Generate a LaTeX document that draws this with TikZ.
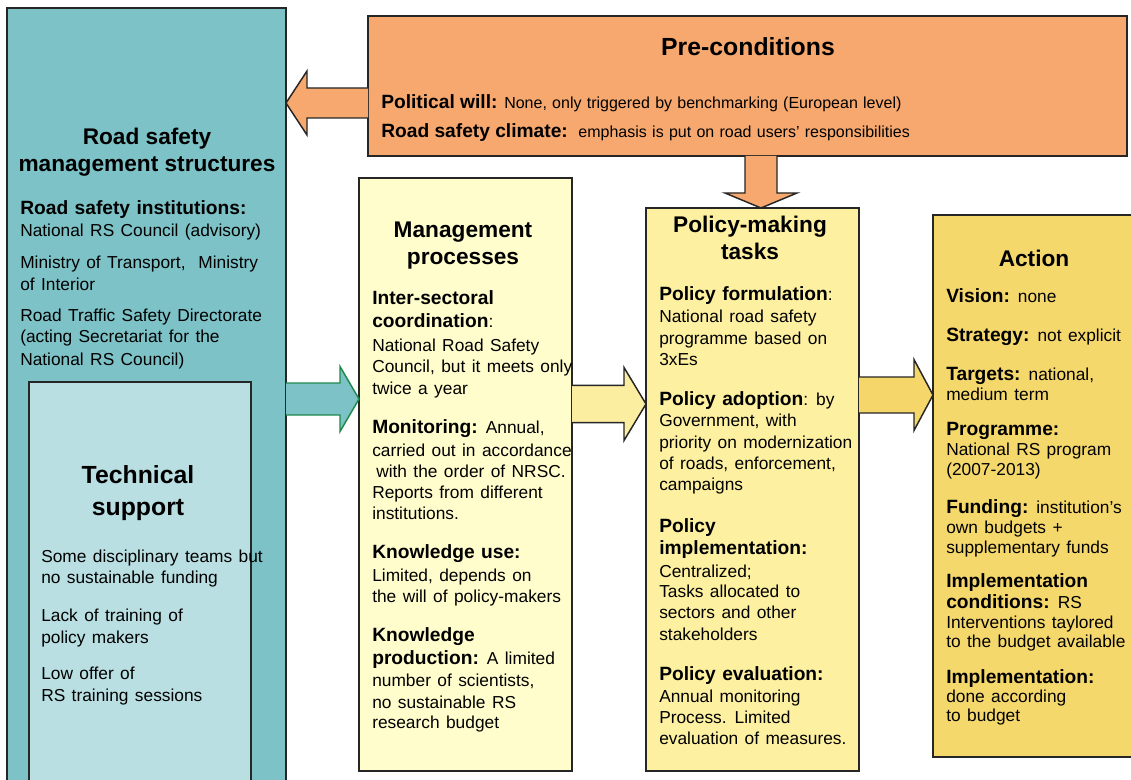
\documentclass[tikz,border=0pt]{standalone}
\usepackage{fontspec}
\setmainfont{Liberation Sans}
\usetikzlibrary{calc}
\definecolor{cTeal}{HTML}{7CC2C7}
\definecolor{cTealL}{HTML}{B9DFE2}
\definecolor{cOrange}{HTML}{F7A86E}
\definecolor{cMgmt}{HTML}{FFFDCC}
\definecolor{cPol}{HTML}{FDF0A0}
\definecolor{cAct}{HTML}{F5D86C}
\definecolor{cArrowY}{HTML}{FBEEA0}
\definecolor{cArrowYY}{HTML}{F4D66A}
\definecolor{cGreen}{HTML}{1F8A4C}
\definecolor{cLine}{HTML}{262626}
\newcommand\fbody{\fontsize{13}{15}\selectfont\spaceskip=0.37em plus 0.1em}
\newcommand\fpre{\fontsize{12}{14}\selectfont\spaceskip=0.33em plus 0.1em}
\newcommand\fsub{\fontsize{14.4}{17}\selectfont\bfseries}
\newcommand\ftitle{\fontsize{17}{20}\selectfont\bfseries}
\newcommand\fbig{\fontsize{18.6}{22}\selectfont\bfseries}
\newcommand\B[1]{{\fsub #1}}
% block arrow: fill, stroke, start, tip, shaft half width, head half width, head length
\newcommand\blockarrow[7]{%
  \coordinate (bah) at ($(#4)!#7!(#3)$);
  \fill[#1] ($(#3)!#5!90:(#4)$) -- ($(bah)!#5!90:(#4)$) -- ($(bah)!#6!90:(#4)$) -- (#4)
    -- ($(bah)!#6!-90:(#4)$) -- ($(bah)!#5!-90:(#4)$) -- ($(#3)!#5!-90:(#4)$) -- cycle;
  \draw[draw=#2, line width=1.1pt] ($(#3)!#5!90:(#4)$) -- ($(bah)!#5!90:(#4)$) -- ($(bah)!#6!90:(#4)$) -- (#4)
    -- ($(bah)!#6!-90:(#4)$) -- ($(bah)!#5!-90:(#4)$) -- ($(#3)!#5!-90:(#4)$);
}
\begin{document}
\begin{tikzpicture}[x=0.75pt, y=-0.75pt,
  box/.style={draw=cLine, line width=1.1pt, anchor=north west, inner sep=0pt, outer sep=0pt},
  t/.style={anchor=base west, inner sep=0pt, font=\fbody},
  tp/.style={anchor=base west, inner sep=0pt, font=\fpre},
  ttl/.style={anchor=base, inner sep=0pt, font=\ftitle},
  big/.style={anchor=base, inner sep=0pt, font=\fbig}]
\useasboundingbox (0,0) rectangle (1131,780);
\fill[white] (0,0) rectangle (1131,780);

% boxes
\node[box, fill=cTeal, minimum width=209.25pt, minimum height=594pt] (ls) at (7,8) {};
\node[box, fill=cTealL, minimum width=166.5pt, minimum height=313.5pt] (ts) at (29,382) {};
\node[box, fill=cOrange, minimum width=569.25pt, minimum height=105pt] (pre) at (368,16) {};
\node[box, fill=cMgmt, minimum width=159.75pt, minimum height=444.75pt] (mp) at (359,178) {};
\node[box, fill=cPol, minimum width=159.75pt, minimum height=422.25pt] (pt) at (646,208) {};
\node[box, fill=cAct, minimum width=155.25pt, minimum height=406.5pt] (ac) at (933,215) {};

% block arrows
\coordinate (a1s) at ($(pre.west)+(0,17)$);
\coordinate (a1e) at (ls.east |- a1s);
\blockarrow{cOrange}{cLine}{a1s}{a1e}{11.25pt}{24pt}{15.75pt}
\coordinate (a2s) at (ls.east |- 0,399);
\coordinate (a2e) at (mp.west |- 0,399);
\blockarrow{cTeal}{cGreen}{a2s}{a2e}{12pt}{24.4pt}{14.25pt}
\coordinate (a3s) at (mp.east |- 0,404);
\coordinate (a3e) at (pt.west |- 0,404);
\blockarrow{cArrowY}{cLine}{a3s}{a3e}{13.9pt}{27.4pt}{16.5pt}
\coordinate (a4s) at (pt.east |- 0,395);
\coordinate (a4e) at (ac.west |- 0,395);
\blockarrow{cArrowYY}{cLine}{a4s}{a4e}{13.5pt}{26.6pt}{14.25pt}
\coordinate (a5s) at (pre.south -| 761,0);
\coordinate (a5e) at (pt.north -| 761,0);
\blockarrow{cOrange}{cLine}{a5s}{a5e}{12pt}{27pt}{11.25pt}

% Pre-conditions
\node[big] (preT) at (748,56) {Pre-conditions};
\node[tp] (pre1) at (381,109) {\B{Political will:} None, only triggered by benchmarking (European level)};
\node[tp] (pre2) at (381,138) {\B{Road safety climate:}\ \ emphasis is put on road users' responsibilities};

% Road safety management structures
\node[ttl] (lsT1) at (147,145) {Road safety};
\node[ttl] (lsT2) at (147,172) {management structures};
\node[t] (ls1) at (20,215) {\B{Road safety institutions:}};
\node[t] (ls2) at (20,237) {National RS Council (advisory)};
\node[t] (ls3) at (20,269) {Ministry of Transport,\ \ Ministry};
\node[t] (ls4) at (20,291) {of Interior};
\node[t] (ls5) at (20,322) {Road Traffic Safety Directorate};
\node[t] (ls6) at (20,343) {(acting Secretariat for the};
\node[t] (ls7) at (20,365) {National RS Council)};

% Technical support
\node[big] (tsT1) at (138,483) {Technical};
\node[big] (tsT2) at (138,515) {support};
\node[t] (ts1) at (41,562) {Some disciplinary teams but};
\node[t] (ts2) at (41,583) {no sustainable funding};
\node[t] (ts3) at (41,621) {Lack of training of};
\node[t] (ts4) at (41,643) {policy makers};
\node[t] (ts5) at (41,679) {Low offer of};
\node[t] (ts6) at (41,701) {RS training sessions};

% Management processes
\node[ttl] (mpT1) at (463,238) {Management};
\node[ttl] (mpT2) at (463,265) {processes};
\node[t] (mp1) at (372,305) {\B{Inter-sectoral}};
\node[t] (mp2) at (372,328) {\B{coordination}:};
\node[t] (mp3) at (372,352) {National Road Safety};
\node[t] (mp4) at (372,373) {Council, but it meets only};
\node[t] (mp5) at (372,394) {twice a year};
\node[t] (mp6) at (372,433) {\B{Monitoring:} Annual,};
\node[t] (mp7) at (372,456) {carried out in accordance};
\node[t] (mp8) at (376,477) {with the order of NRSC.};
\node[t] (mp9) at (372,498) {Reports from different};
\node[t] (mp10) at (372,519) {institutions.};
\node[t] (mp11) at (372,558) {\B{Knowledge use:}};
\node[t] (mp12) at (372,581) {Limited, depends on};
\node[t] (mp13) at (372,602) {the will of policy-makers};
\node[t] (mp14) at (372,641) {\B{Knowledge}};
\node[t] (mp15) at (372,664) {\B{production:} A limited};
\node[t] (mp16) at (372,686) {number of scientists,};
\node[t] (mp17) at (372,708) {no sustainable RS};
\node[t] (mp18) at (372,728) {research budget};

% Policy-making tasks
\node[ttl] (ptT1) at (750,233) {Policy-making};
\node[ttl] (ptT2) at (750,260) {tasks};
\node[t] (pt1) at (659,301) {\B{Policy formulation}:};
\node[t] (pt2) at (659,323) {National road safety};
\node[t] (pt3) at (659,345) {programme based on};
\node[t] (pt4) at (659,366) {3xEs};
\node[t] (pt5) at (659,405) {\B{Policy adoption}: by};
\node[t] (pt6) at (659,426) {Government, with};
\node[t] (pt7) at (659,448) {priority on modernization};
\node[t] (pt8) at (659,469) {of roads, enforcement,};
\node[t] (pt9) at (659,490) {campaigns};
\node[t] (pt10) at (659,532) {\B{Policy}};
\node[t] (pt11) at (659,554) {\B{implementation:}};
\node[t] (pt12) at (659,577) {Centralized;};
\node[t] (pt13) at (659,597) {Tasks allocated to};
\node[t] (pt14) at (659,618) {sectors and other};
\node[t] (pt15) at (659,640) {stakeholders};
\node[t] (pt16) at (659,680) {\B{Policy evaluation:}};
\node[t] (pt17) at (659,702) {Annual monitoring};
\node[t] (pt18) at (659,723) {Process. Limited};
\node[t] (pt19) at (659,744) {evaluation of measures.};

% Action
\node[ttl] (acT) at (1034,267) {Action};
\node[t] (ac1) at (946,303) {\B{Vision:} none};
\node[t] (ac2) at (946,342) {\B{Strategy:} not explicit};
\node[t] (ac3) at (946,381) {\B{Targets:} national,};
\node[t] (ac4) at (946,400) {medium term};
\node[t] (ac5) at (946,435) {\B{Programme:}};
\node[t] (ac6) at (946,455) {National RS program};
\node[t] (ac7) at (946,475) {(2007-2013)};
\node[t] (ac8) at (946,513) {\B{Funding:} institution's};
\node[t] (ac9) at (946,533) {own budgets +};
\node[t] (ac10) at (946,553) {supplementary funds};
\node[t] (ac11) at (946,587) {\B{Implementation}};
\node[t] (ac12) at (946,608) {\B{conditions:} RS};
\node[t] (ac13) at (946,628) {Interventions taylored};
\node[t] (ac14) at (946,647) {to the budget available};
\node[t] (ac15) at (946,683) {\B{Implementation:}};
\node[t] (ac16) at (946,702) {done according};
\node[t] (ac17) at (946,721) {to budget};
\end{tikzpicture}
\end{document}
